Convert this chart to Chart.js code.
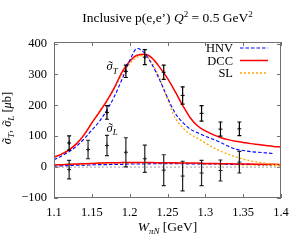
<!DOCTYPE html>
<html>
<head>
<meta charset="utf-8">
<script src="https://cdn.jsdelivr.net/npm/chart.js@4/dist/chart.umd.min.js"></script>
<style>
  html, body { margin: 0; padding: 0; background: #fff; }
  canvas { display: block; }
</style>
</head>
<body>
<canvas id="c" width="300" height="240"></canvas>
<script>
/* curve grid (W in GeV) and model curves */
var wGrid = [1.10, 1.11, 1.12, 1.13, 1.14, 1.15, 1.16, 1.17, 1.18, 1.19, 1.20, 1.21, 1.22, 1.23, 1.24, 1.25,
             1.26, 1.27, 1.28, 1.29, 1.30, 1.31, 1.32, 1.33, 1.34, 1.35, 1.36, 1.37, 1.38, 1.39, 1.40];

var dccT = [32, 42, 56, 76, 105, 143, 178, 215, 258, 308, 343, 362, 365, 352, 322, 287,
            245, 200, 160, 133, 117, 105, 96, 89, 84, 80, 76, 73, 70, 67, 65];
var hnvT = [24, 36, 50, 68, 92, 120, 148, 185, 230, 285, 345, 384, 368, 330, 280, 225,
            175, 145, 123, 111, 100, 90, 80, 68, 58, 54, 50, 48, 46, 44, null];
var slT  = [33, 43, 57, 77, 106, 143, 180, 215, 256, 300, 335, 356, 361, 335, 285, 220,
            160, 128, 107, 93, 78, 64, 52, 42, 33, 26, 20, 16, 12, 9, 7];

var dccL = [7, 8, 9, 10, 11, 12, 13, 14, 14, 15, 15, 15, 15, 15, 14, 14,
            14, 13, 13, 13, 12, 12, 11, 11, 10, 10, 10, 9, 9, 9, 8];
var hnvL = [3, 4, 5, 6, 6, 7, 8, 8, 9, 9, 10, 10, 10, 11, 11, 11,
            11, 11, 10, 10, 10, 10, 10, 9, 9, 9, 9, 8, 8, 8, null];
var slL  = [6, 7, 8, 9, 10, 11, 12, 13, 13, 14, 14, 14, 14, 14, 13, 13,
            13, 12, 12, 11, 10, 10, 9, 9, 8, 7, 7, 6, 6, 5, 5];

/* data points with errors */
var wPts    = [1.12, 1.145, 1.17, 1.195, 1.22, 1.245, 1.27, 1.295, 1.32, 1.345];
var sigT    = [78, null, 177, 310, 356, 307, 232, 174, 123, 124];
var sigTErr = [23, null, 22, 20, 24, 23, 28, 25, 23, 22];
var sigL    = [-8, 57, 70, 48, 27, -10, -29, -19, -11, 16];
var sigLErr = [30, 30, 33, 47, 44, 50, 48, 41, 34, 35];

var zeroW = [1.1, 1.4];
var zeroV = [0, 0];

var xTicks = [1.1, 1.15, 1.2, 1.25, 1.3, 1.35, 1.4];
var yTicks = [-100, 0, 100, 200, 300, 400];

var FONT = '"Liberation Serif", "DejaVu Serif", serif';

function xy(xs, ys) {
  return xs.map(function (x, i) { return { x: x, y: ys[i] }; });
}

function partFont(p, size) {
  var s = (p.sub || p.sup) ? Math.round(size * 0.7) : size;
  return (p.i ? 'italic ' : '') + s + 'px ' + FONT;
}

// draw a line of mixed text (italic / sub / sup / tilde accent)
function drawRich(ctx, parts, x, y, size, align) {
  var widths = parts.map(function (p) { ctx.font = partFont(p, size); return ctx.measureText(p.t).width; });
  var total = widths.reduce(function (a, b) { return a + b; }, 0);
  var cx = align === 'center' ? x - total / 2 : (align === 'right' ? x - total : x);
  ctx.textAlign = 'left';
  ctx.textBaseline = 'alphabetic';
  parts.forEach(function (p, i) {
    ctx.font = partFont(p, size);
    var dy = p.sub ? size * 0.25 : (p.sup ? -size * 0.4 : 0);
    ctx.fillText(p.t, cx, y + dy);
    if (p.tilde) {
      ctx.font = partFont({}, size);
      var tw = ctx.measureText('\u02DC').width;
      ctx.fillText('\u02DC', cx + widths[i] / 2 - tw / 2 + 1, y);
    }
    cx += widths[i];
  });
}

function curve(label, xs, ys, color, dash, width, legend) {
  return {
    label: label, data: xy(xs, ys), showLine: true, borderColor: color, backgroundColor: color,
    borderWidth: width, borderDash: dash, pointRadius: 0, cubicInterpolationMode: 'monotone',
    fill: false, legendEntry: legend
  };
}

var decorPlugin = {
  id: 'decor',
  beforeDatasetsDraw: function (chart) {
    var ctx = chart.ctx, a = chart.chartArea;
    var xs = chart.scales.x, ys = chart.scales.y;
    ctx.save();
    ctx.strokeStyle = '#707070';
    ctx.lineWidth = 1;
    ctx.beginPath();
    xTicks.forEach(function (v) {
      var px = Math.round(xs.getPixelForValue(v)) + 0.5;
      ctx.moveTo(px, a.bottom); ctx.lineTo(px, a.bottom - 4);
      ctx.moveTo(px, a.top); ctx.lineTo(px, a.top + 4);
    });
    yTicks.forEach(function (v) {
      var py = Math.round(ys.getPixelForValue(v)) + 0.5;
      ctx.moveTo(a.left, py); ctx.lineTo(a.left + 4, py);
      ctx.moveTo(a.right, py); ctx.lineTo(a.right - 4, py);
    });
    ctx.stroke();
    ctx.restore();
  },
  afterDatasetsDraw: function (chart) {
    var ctx = chart.ctx, a = chart.chartArea;
    var xs = chart.scales.x, ys = chart.scales.y;
    ctx.save();

    // error bars
    chart.data.datasets.forEach(function (ds) {
      if (!ds.errors) return;
      ctx.strokeStyle = ds.borderColor;
      ctx.lineWidth = 1.2;
      ctx.beginPath();
      ds.data.forEach(function (pt, i) {
        if (pt.y === null || ds.errors[i] === null) return;
        var px = xs.getPixelForValue(pt.x);
        var y1 = ys.getPixelForValue(pt.y + ds.errors[i]);
        var y2 = ys.getPixelForValue(pt.y - ds.errors[i]);
        ctx.moveTo(px, y1); ctx.lineTo(px, y2);
        ctx.moveTo(px - 2, y1); ctx.lineTo(px + 2, y1);
        ctx.moveTo(px - 2, y2); ctx.lineTo(px + 2, y2);
      });
      ctx.stroke();
    });

    // frame
    ctx.strokeStyle = '#707070';
    ctx.lineWidth = 1;
    ctx.strokeRect(Math.round(a.left) + 0.5, Math.round(a.top) + 0.5,
                   Math.round(a.right - a.left) - 1, Math.round(a.bottom - a.top) - 1);

    ctx.fillStyle = '#000';
    // curve annotations
    drawRich(ctx, [{ t: '\u03C3', i: true, tilde: true }, { t: 'T', i: true, sub: true }],
             xs.getPixelForValue(1.1695), ys.getPixelForValue(313), 12.5, 'left');
    drawRich(ctx, [{ t: '\u03C3', i: true, tilde: true }, { t: 'L', i: true, sub: true }],
             xs.getPixelForValue(1.1695), ys.getPixelForValue(113), 12.5, 'left');

    // legend (text right of anchor, sample line to the right)
    var ly = a.top + 6;
    chart.data.datasets.forEach(function (ds) {
      if (!ds.legendEntry) return;
      ctx.font = '12.5px ' + FONT;
      ctx.textAlign = 'right';
      ctx.textBaseline = 'middle';
      ctx.fillText(ds.label, 233, ly + 1);
      ctx.strokeStyle = ds.borderColor;
      ctx.lineWidth = ds.borderWidth;
      ctx.setLineDash(ds.borderDash || []);
      ctx.beginPath();
      ctx.moveTo(240, ly); ctx.lineTo(268, ly);
      ctx.stroke();
      ctx.setLineDash([]);
      ly += 12.5;
    });

    // title
    drawRich(ctx, [
      { t: 'Inclusive p(e,e\u2019) ' }, { t: 'Q', i: true }, { t: '2', sup: true },
      { t: ' = 0.5 GeV' }, { t: '2', sup: true }
    ], (a.left + a.right) / 2, 22, 13.5, 'center');

    // x axis title
    drawRich(ctx, [
      { t: 'W', i: true }, { t: '\u03C0N', i: true, sub: true }, { t: ' [GeV]' }
    ], (a.left + a.right) / 2, 231, 13.5, 'center');

    // y axis title (rotated)
    ctx.save();
    ctx.translate(11, (a.top + a.bottom) / 2 - 2);
    ctx.rotate(-Math.PI / 2);
    drawRich(ctx, [
      { t: '\u03C3', i: true, tilde: true }, { t: 'T', i: true, sub: true }, { t: ', ' },
      { t: '\u03C3', i: true, tilde: true }, { t: 'L', i: true, sub: true }, { t: ' [' },
      { t: '\u03BC', i: true }, { t: 'b]' }
    ], 0, 0, 12.5, 'center');
    ctx.restore();

    ctx.restore();
  }
};

new Chart(document.getElementById('c'), {
  type: 'scatter',
  data: {
    datasets: [
      { label: 'sigT', data: xy(wPts, sigT), errors: sigTErr, pointStyle: 'cross', pointRadius: 2,
        borderColor: '#000', backgroundColor: '#000', borderWidth: 1, showLine: false },
      { label: 'sigL', data: xy(wPts, sigL), errors: sigLErr, pointStyle: 'cross', pointRadius: 2,
        borderColor: '#222', backgroundColor: '#222', borderWidth: 1, showLine: false },
      curve('HNV', wGrid, hnvT, '#0000ff', [3.5, 2], 1.1, true),
      curve('DCC', wGrid, dccT, '#ff0000', [], 1.5, true),
      curve('SL', wGrid, slT, '#ffa500', [2, 2], 1.3, true),
      curve('DCC L', wGrid, dccL, '#ff0000', [], 1.5, false),
      curve('HNV L', wGrid, hnvL, '#0000ff', [3.5, 2], 1.1, false),
      curve('SL L', wGrid, slL, '#ffa500', [2, 2], 1.3, false),
      curve('zero', zeroW, zeroV, '#a0a0a0', [2, 2], 1, false)
    ]
  },
  options: {
    responsive: false,
    animation: false,
    devicePixelRatio: 1,
    layout: { padding: { left: 0, right: 19, top: 42, bottom: 0 } },
    plugins: { legend: { display: false }, tooltip: { enabled: false } },
    scales: {
      x: {
        type: 'linear', min: 1.1, max: 1.4,
        grid: { display: false, drawTicks: false }, border: { display: false },
        afterBuildTicks: function (s) { s.ticks = xTicks.map(function (v) { return { value: v }; }); },
        afterFit: function (s) { s.height = 42; },
        ticks: { color: '#000', font: { family: FONT, size: 12.5 }, padding: 7, maxRotation: 0, autoSkip: false,
                 callback: function (v) { return String(v); } }
      },
      y: {
        min: -100, max: 405,
        grid: { display: false, drawTicks: false }, border: { display: false },
        afterBuildTicks: function (s) { s.ticks = yTicks.map(function (v) { return { value: v }; }); },
        afterFit: function (s) { s.width = 54; },
        ticks: { color: '#000', font: { family: FONT, size: 12.5 }, padding: 7,
                 callback: function (v) { return v < 0 ? '\u2212' + (-v) : String(v); } }
      }
    }
  },
  plugins: [decorPlugin]
});
</script>
</body>
</html>
